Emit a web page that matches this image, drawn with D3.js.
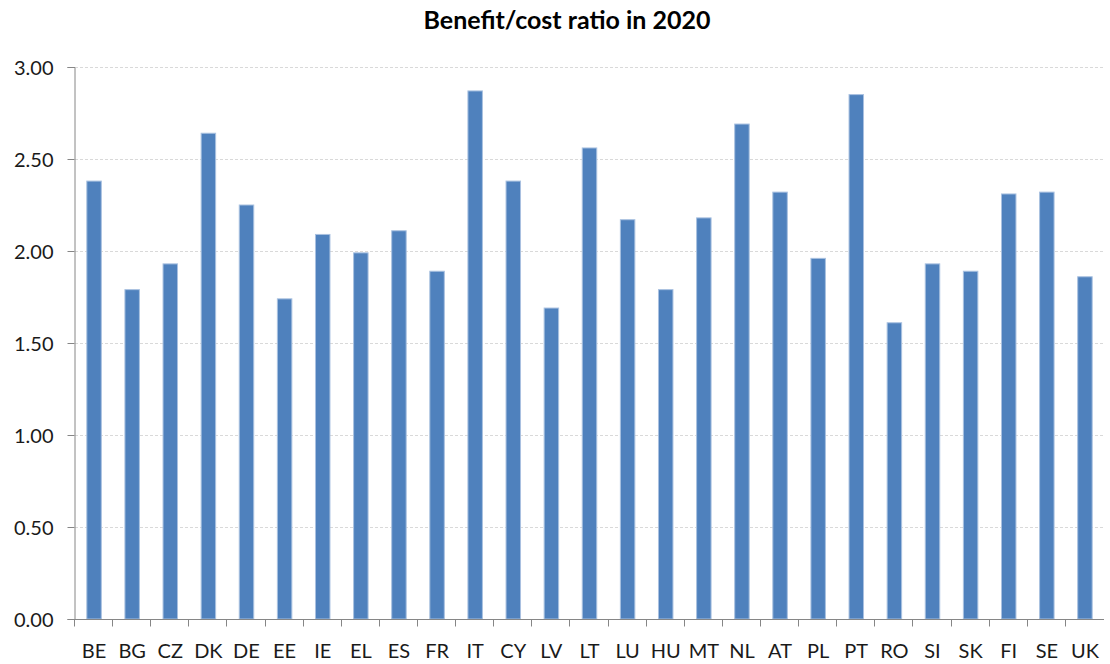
<!DOCTYPE html>
<html>
  <head>
    <meta charset="utf-8">
    <title>Benefit/cost ratio in 2020</title>
    <script src="https://d3js.org/d3.v7.min.js"></script>
    <style>
      body { margin: 0; background: #fff; }
      #chart { display: block; }
      .title { font-family: Lato, "Open Sans", sans-serif; font-weight: bold; font-size: 25px; fill: #000; }
      .axis text { font-family: Lato, "Open Sans", sans-serif; font-size: 20px; fill: #1a1a1a; }
      .axis path, .axis line { stroke: #868686; }
      .grid line { stroke: #d9d9d9; stroke-dasharray: 3 2; }
      .bar { fill: #4f81bd; stroke: #a9c1e0; stroke-width: 1; }
    </style>
  </head>
  <body>
    <svg id="chart" width="1110" height="664"></svg>
    <script>
      // chart data
      var countries = ["BE", "BG", "CZ", "DK", "DE", "EE", "IE", "EL", "ES", "FR", "IT", "CY", "LV", "LT",
        "LU", "HU", "MT", "NL", "AT", "PL", "PT", "RO", "SI", "SK", "FI", "SE", "UK"];
      var ratios = [2.38, 1.79, 1.93, 2.64, 2.25, 1.74, 2.09, 1.99, 2.11, 1.89, 2.87, 2.38, 1.69, 2.56,
        2.17, 1.79, 2.18, 2.69, 2.32, 1.96, 2.85, 1.61, 1.93, 1.89, 2.31, 2.32, 1.86];
      var yTicks = [0, 0.5, 1, 1.5, 2, 2.5, 3];

      var margin = { top: 67, right: 6, bottom: 45, left: 75 };
      var width = 1110, height = 664;
      var chart = d3.select("#chart");

      var x = d3.scaleBand()
        .domain(countries)
        .range([margin.left, width - margin.right])
        .paddingInner(0.62)
        .paddingOuter(0.31);
      var y = d3.scaleLinear()
        .domain([0, 3])
        .range([height - margin.bottom, margin.top]);

      // gridlines
      chart.append("g")
        .attr("class", "grid")
        .selectAll("line")
        .data(yTicks.filter(function(d) { return d > 0; }))
        .enter().append("line")
          .attr("x1", margin.left)
          .attr("x2", width - margin.right)
          .attr("y1", function(d) { return Math.round(y(d)) + 0.5; })
          .attr("y2", function(d) { return Math.round(y(d)) + 0.5; });

      // bars
      chart.append("g")
        .selectAll(".bar")
        .data(ratios)
        .enter().append("rect")
          .attr("class", "bar")
          .attr("x", function(d, i) { return x(countries[i]); })
          .attr("width", x.bandwidth())
          .attr("y", function(d) { return y(d); })
          .attr("height", function(d) { return y(0) - y(d); });

      // y axis
      var yAxis = d3.axisLeft(y)
        .tickValues(yTicks)
        .tickFormat(d3.format(".2f"))
        .tickSizeOuter(0)
        .tickSize(7)
        .tickPadding(14);
      chart.append("g")
        .attr("class", "axis")
        .attr("transform", "translate(" + (margin.left - 0.5) + ",0)")
        .call(yAxis)
        .selectAll("text").attr("dy", "0.35em");

      // x axis, ticks on category boundaries
      var xAxisGroup = chart.append("g")
        .attr("class", "axis")
        .attr("transform", "translate(0," + (y(0) + 0.5) + ")");
      xAxisGroup.append("line")
        .attr("x1", margin.left - 7)
        .attr("x2", width - margin.right)
        .attr("y1", 0).attr("y2", 0);
      var step = x.step();
      var x0 = x(countries[0]) - x.paddingOuter() * step;
      xAxisGroup.selectAll(".tick")
        .data(d3.range(countries.length))
        .enter().append("line")
          .attr("x1", function(i) { return Math.round(x0 + i * step) - 0.5; })
          .attr("x2", function(i) { return Math.round(x0 + i * step) - 0.5; })
          .attr("y1", 0).attr("y2", 7);
      xAxisGroup.selectAll(".label")
        .data(countries)
        .enter().append("text")
          .attr("x", function(d) { return x(d) + x.bandwidth() / 2; })
          .attr("y", 38)
          .attr("text-anchor", "middle")
          .text(function(d) { return d; });

      // title
      chart.append("text")
        .attr("class", "title")
        .attr("x", 567)
        .attr("y", 29)
        .attr("text-anchor", "middle")
        .text("Benefit/cost ratio in 2020");
    </script>
  </body>
</html>
